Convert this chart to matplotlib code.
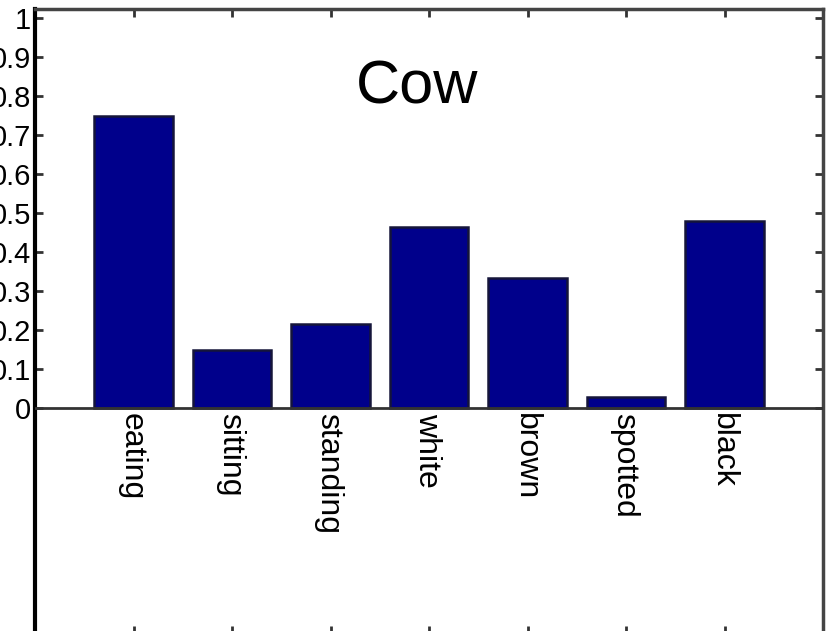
import matplotlib
matplotlib.use("Agg")
import matplotlib.pyplot as plt
import numpy as np

plt.rcParams['font.family'] = ['Liberation Sans', 'DejaVu Sans']

# attribute scores for the "Cow" class
attributes = ['eating', 'sitting', 'standing', 'white', 'brown', 'spotted', 'black']
scores = [0.75, 0.15, 0.215, 0.465, 0.334, 0.029, 0.481]
yticks = [0, 0.1, 0.2, 0.3, 0.4, 0.5, 0.6, 0.7, 0.8, 0.9, 1]
ytick_labels = ['0', '0.1', '0.2', '0.3', '0.4', '0.5', '0.6', '0.7', '0.8', '0.9', '1']
title = 'Cow'

W, H = 826, 631
fig = plt.figure(figsize=(W / 100, H / 100), dpi=100)

# axes box runs a little past the bottom edge of the figure
left, right, top, bottom = 35, 823, 9, 634
ax = fig.add_axes([left / W, 1 - bottom / H, (right - left) / W, (bottom - top) / H])

x = np.arange(1, len(attributes) + 1)
ax.bar(x, scores, width=0.8, color='#00008B', edgecolor='#15153a', linewidth=1.8, zorder=2)
ax.axhline(0, color='#333333', linewidth=2, zorder=3)

ax.set_xlim(0, 8)
ax.set_ylim(-0.58, 1.024)
ax.set_yticks(yticks)
ax.set_yticklabels(ytick_labels)
ax.set_xticks(x)
ax.set_xticklabels([])

ax.tick_params(axis='both', direction='in', length=6, width=2, color='#333333',
               top=True, right=True, labelsize=21, pad=3)

for name, sp in ax.spines.items():
    sp.set_linewidth(2.5)
    sp.set_color('#444444')
ax.spines['left'].set_color('black')
ax.spines['left'].set_linewidth(3)

# category names hang below the zero line
for xi, name in zip(x, attributes):
    ax.annotate(name, (xi, 0), xytext=(-2, -5), textcoords='offset pixels',
                rotation=-90, ha='center', va='top', fontsize=23)

ax.text(3.88, 0.82, title, ha='center', va='center', fontsize=44)

fig.savefig('out.png', dpi=100)
